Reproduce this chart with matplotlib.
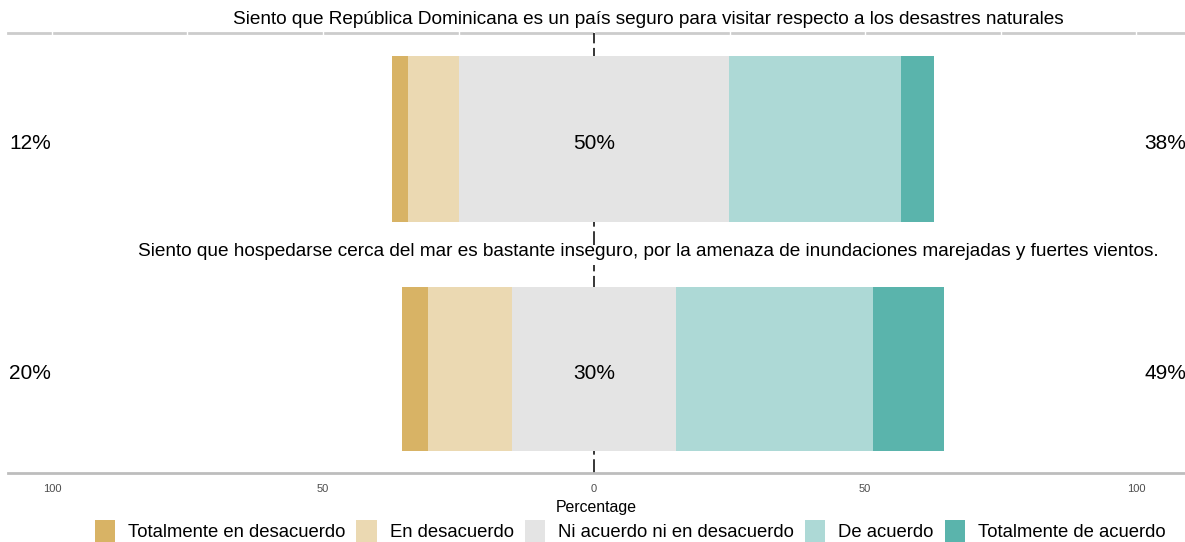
import numpy as np
import matplotlib
matplotlib.use("Agg")
import matplotlib.pyplot as plt
from matplotlib.patches import Patch

plt.rcParams["font.family"] = ["Liberation Sans", "DejaVu Sans"]

items = [
    "Siento que República Dominicana es un país seguro para visitar respecto a los desastres naturales",
    "Siento que hospedarse cerca del mar es bastante inseguro, por la amenaza de inundaciones marejadas y fuertes vientos.",
]
levels = ["Totalmente en desacuerdo", "En desacuerdo", "Ni acuerdo ni en desacuerdo",
          "De acuerdo", "Totalmente de acuerdo"]
colors = ["#D8B365", "#EBD9B2", "#E4E4E4", "#ADD9D6", "#5AB4AC"]

# percentage per response level, one row per item
pct = np.array([
    [2.9, 9.5, 49.8, 31.8, 6.0],
    [4.9, 15.5, 30.2, 36.3, 13.1],
])

ticks = [-100, -50, 0, 50, 100]
tick_labels = ["100", "50", "0", "50", "100"]

fig = plt.figure(figsize=(11.85, 5.42), dpi=100)
W, H = 1185, 542
panels = [(33, 245), (265, 473)]
xlim = (-108.1, 109.0)

for i, (top, bot) in enumerate(panels):
    ax = fig.add_axes([8 / W, 1 - bot / H, 1 - 8 / W, (bot - top) / H])
    row = pct[i]
    low = row[0] + row[1]
    high = row[3] + row[4]
    neutral = row[2]
    left = -neutral / 2 - low
    for v, c in zip(row, colors):
        ax.barh(0, v, left=left, height=0.8, color=c, edgecolor="none", zorder=2)
        left += v
    ax.axvline(0, color="black", lw=1.1, ls=(0, (9, 3)), zorder=1)
    ty = -0.02
    ax.text(-104, ty, f"{round(low)}%", ha="center", va="center", fontsize=15)
    ax.text(105.4, ty, f"{round(high)}%", ha="center", va="center", fontsize=15)
    ax.text(0, ty, f"{round(neutral)}%", ha="center", va="center", fontsize=15, zorder=3)
    ax.set_xlim(*xlim)
    ax.set_ylim(-0.51, 0.51)
    ax.set_yticks([])
    for s in ax.spines.values():
        s.set_visible(False)
    fig.text(648 / W, 1 - (top - 14) / H, items[i], ha="center", va="center", fontsize=13.7)
    if i == 0:
        ax.axhline(0.51, color="#CCCCCC", lw=2, zorder=0, clip_on=False)
        for t in range(-100, 101, 25):
            ax.plot([t, t], [0.49, 0.53], color="white", lw=1, zorder=0.5, clip_on=False)
        ax.set_xticks([])
    else:
        ax.spines["bottom"].set_visible(True)
        ax.spines["bottom"].set_color("#BDBDBD")
        ax.spines["bottom"].set_linewidth(2)
        ax.set_xticks(ticks)
        ax.set_xticklabels(tick_labels, fontsize=8, color="#4D4D4D")
        ax.tick_params(axis="x", length=0, pad=8)
        ax.set_xlabel("Percentage", fontsize=11.4, labelpad=4)

handles = [Patch(facecolor=c, edgecolor="none") for c in colors]
fig.legend(handles, levels, loc="center", bbox_to_anchor=(630 / W, 1 - 531 / H),
           ncol=5, frameon=False, fontsize=13.3, handlelength=1.1, handleheight=1.4,
           handletextpad=0.7, columnspacing=0.6, borderpad=0.1)

fig.savefig("out.png", dpi=100)
plt.close(fig)
